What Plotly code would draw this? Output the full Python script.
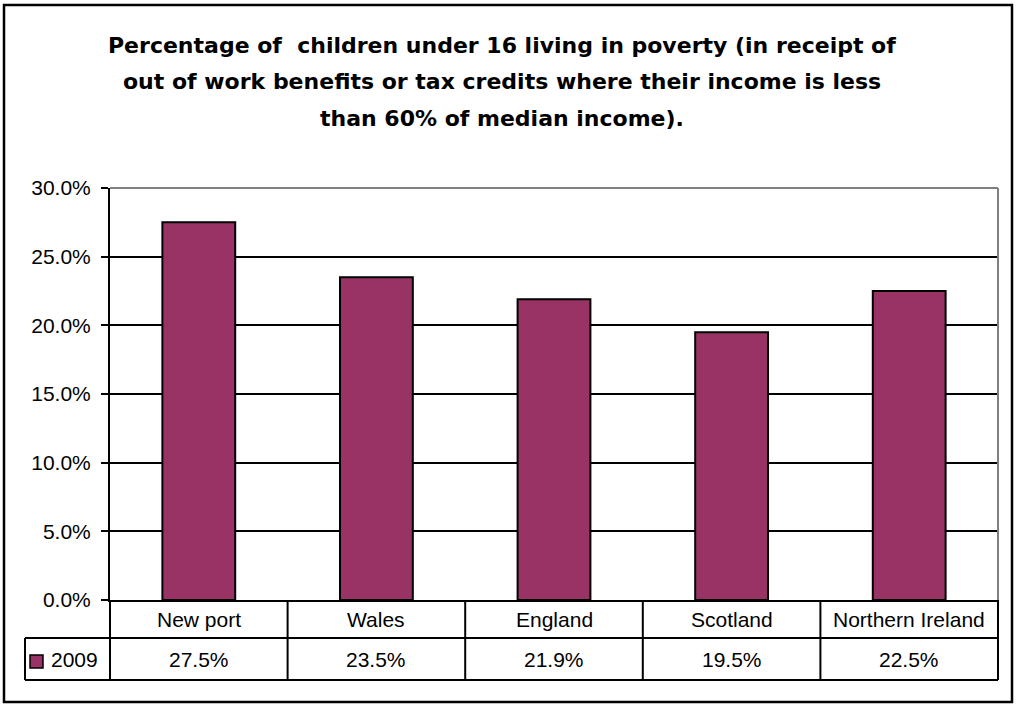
import plotly.graph_objects as go

categories = ["New port", "Wales", "England", "Scotland", "Northern Ireland"]
values_2009 = [0.275, 0.235, 0.219, 0.195, 0.225]
series_name = "2009"
title_lines = [
    "Percentage of  children under 16 living in poverty (in receipt of",
    "out of work benefits or tax credits where their income is less",
    "than 60% of median income).",
]

W, H = 1016, 705
L, R, T, B = 110, 998, 188, 600  # pixel positions of plot area
PW, PH = R - L, B - T
BAR = "#993366"
FONT = "Liberation Sans, Arial, sans-serif"
TFONT = "DejaVu Sans, Liberation Sans, sans-serif"


def px(x):
    return (x - L) / PW


def py(y):
    return (B - y) / PH


fig = go.Figure()
fig.add_trace(go.Bar(
    x=categories, y=values_2009, name=series_name,
    marker=dict(color=BAR, line=dict(color="black", width=2)),
    width=0.41, showlegend=False,
))

shapes = []
annotations = []

# outer frame
shapes.append(dict(type="rect", xref="paper", yref="paper",
                   x0=px(4), x1=px(1012), y0=py(5), y1=py(702),
                   line=dict(color="black", width=2.5), layer="below"))
# plot area border top & right (gray)
shapes.append(dict(type="line", xref="paper", yref="paper", x0=0, x1=1, y0=1, y1=1,
                   line=dict(color="#808080", width=2)))
shapes.append(dict(type="line", xref="paper", yref="paper", x0=1, x1=1, y0=0, y1=1,
                   line=dict(color="#808080", width=2)))

# data table
n = len(categories)
row1 = py(638)
row2 = py(680)
leg_left = px(25)
lw = dict(color="black", width=2)
shapes.append(dict(type="line", xref="paper", yref="paper", x0=0, x1=1, y0=row1, y1=row1, line=lw))
shapes.append(dict(type="line", xref="paper", yref="paper", x0=leg_left, x1=0, y0=row1, y1=row1, line=lw))
shapes.append(dict(type="line", xref="paper", yref="paper", x0=leg_left, x1=1, y0=row2, y1=row2, line=lw))
shapes.append(dict(type="line", xref="paper", yref="paper", x0=leg_left, x1=leg_left, y0=row1, y1=row2, line=lw))
for k in range(n + 1):
    xk = k / n
    shapes.append(dict(type="line", xref="paper", yref="paper", x0=xk, x1=xk, y0=0, y1=row2, line=lw))

# legend key
shapes.append(dict(type="rect", xref="paper", yref="paper",
                   x0=px(30), x1=px(43), y0=py(668), y1=py(655),
                   fillcolor=BAR, line=dict(color="black", width=1.5)))
annotations.append(dict(text=series_name, xref="paper", yref="paper",
                        x=px(49), y=(row1 + row2) / 2, xanchor="left", yanchor="middle",
                        showarrow=False, font=dict(size=21, color="black", family=FONT)))

for i, (c, v) in enumerate(zip(categories, values_2009)):
    annotations.append(dict(text=c, xref="x", yref="paper", x=c, y=(0 + row1) / 2,
                            xanchor="center", yanchor="middle", showarrow=False,
                            font=dict(size=21, color="black", family=FONT)))
    annotations.append(dict(text=f"{v * 100:.1f}%", xref="x", yref="paper", x=c, y=(row1 + row2) / 2,
                            xanchor="center", yanchor="middle", showarrow=False,
                            font=dict(size=21, color="black", family=FONT)))

# title lines
for j, (t, yc) in enumerate(zip(title_lines, [45, 82, 118])):
    annotations.append(dict(text=f"<b>{t}</b>", xref="paper", yref="paper",
                            x=px(502), y=py(yc), xanchor="center", yanchor="middle",
                            showarrow=False, font=dict(size=22, color="black", family=TFONT)))

fig.update_layout(
    width=W, height=H,
    margin=dict(l=L, r=W - R, t=T, b=H - B, pad=0),
    paper_bgcolor="white", plot_bgcolor="white",
    shapes=shapes, annotations=annotations,
    xaxis=dict(showticklabels=False, ticks="", showgrid=False, zeroline=False,
               showline=True, linecolor="black", linewidth=2, range=[-0.5, n - 0.5]),
    yaxis=dict(range=[0, 0.30], dtick=0.05, tick0=0, tickformat=".1%",
               showgrid=True, gridcolor="black", gridwidth=1.5, zeroline=False,
               showline=True, linecolor="black", linewidth=2,
               ticks="outside", ticklen=7, tickwidth=2, tickcolor="black",
               ticklabelstandoff=6,
               tickfont=dict(size=21, color="black", family=FONT)),
    font=dict(family=FONT, color="black"),
)

fig.write_html("out.html", config={"displayModeBar": False},
               post_script="document.body.style.margin='0';document.body.style.overflow='hidden';")
